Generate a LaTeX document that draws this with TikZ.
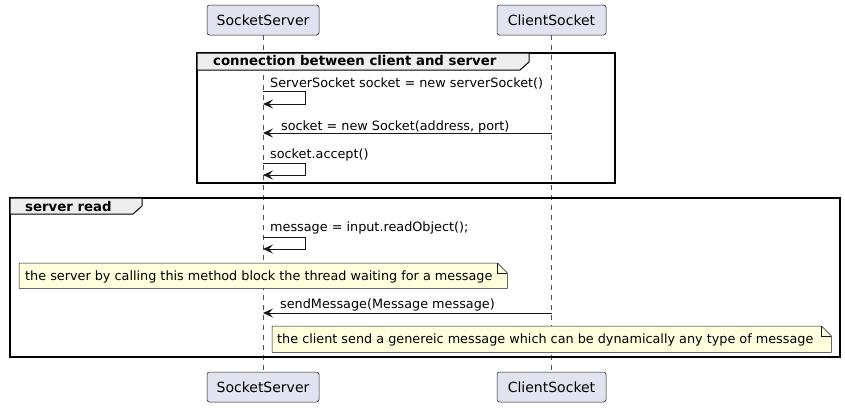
\documentclass[tikz,border=0pt]{standalone}
\usepackage{fontspec}
\setmainfont{DejaVu Sans}
\usetikzlibrary{arrows.meta,calc}
\definecolor{partfill}{HTML}{E2E2F0}
\definecolor{ink}{HTML}{181818}
\definecolor{notefill}{HTML}{FEFFDD}
\definecolor{tabfill}{HTML}{EEEEEE}
\tikzset{
  participant/.style={draw=ink, fill=partfill, rounded corners=2.5pt, line width=0.5pt,
    minimum height=30pt, inner sep=0pt, font=\fontsize{14}{16}\selectfont},
  lifeline/.style={draw=ink!75, dash pattern=on 5pt off 5pt, line width=0.5pt},
  msg/.style={draw=ink, line width=1pt, -{Stealth[length=10pt,width=9pt,inset=4pt]}},
  lbl/.style={anchor=base west, inner sep=0pt, font=\fontsize{12.8}{15}\selectfont, text=black},
  ttl/.style={anchor=base west, inner sep=0pt, font=\fontsize{13.3}{15}\selectfont\bfseries, text=black},
  frm/.style={draw=black, line width=1.5pt},
  tabshape/.style={draw=black, line width=1pt, fill=tabfill},
  notebox/.style={draw=none, inner sep=0pt, anchor=north west},
  noteline/.style={draw=ink, line width=0.5pt, fill=notefill},
}
\begin{document}
\begin{tikzpicture}[x=1pt,y=-1pt]
\useasboundingbox[fill=white] (0,0) rectangle (845,407);

% participants
\node[participant, minimum width=112pt] (st) at (263,20) {SocketServer};
\node[participant, minimum width=109pt] (ct) at (551.5,20) {ClientSocket};
\node[participant, minimum width=112pt] (sb) at (263,387) {SocketServer};
\node[participant, minimum width=109pt] (cb) at (551.5,387) {ClientSocket};

% lifelines
\draw[lifeline] (st.south) -- (sb.north);
\draw[lifeline] (ct.south) -- (cb.north);

% frame 1
\draw[frm] (197,53) rectangle (615,183);
\draw[tabshape] (197,53) -- (529,53) -- (529,62) -- (520,70) -- (197,70) -- cycle;
\node[ttl] (f1t) at (213,65) {connection between client and server};

% frame 2
\draw[frm] (10,198) rectangle (840,357);
\draw[tabshape] (10,198) -- (142,198) -- (142,206) -- (133,214) -- (10,214) -- cycle;
\node[ttl] (f2t) at (25,211) {server read};

% message 1 (self)
\coordinate (s1a) at (263,91);
\coordinate (s1b) at (263,104);
\draw[msg] (s1a) -- ++(42,0) |- (s1b);
\node[lbl] (m1) at (270,87) {ServerSocket socket = new serverSocket()};

% message 2
\coordinate (c2) at (551.5,133);
\coordinate (s2) at (263,133);
\draw[msg] (c2) -- (s2);
\node[lbl] (m2) at (281,130) {socket = new Socket(address, port)};

% message 3 (self)
\coordinate (s3a) at (263,163);
\coordinate (s3b) at (263,175);
\draw[msg] (s3a) -- ++(42,0) |- (s3b);
\node[lbl] (m3) at (270,158) {socket.accept()};

% message 4 (self)
\coordinate (s4a) at (263,237);
\coordinate (s4b) at (263,249);
\draw[msg] (s4a) -- ++(42,0) |- (s4b);
\node[lbl] (m4) at (270,231) {message = input.readObject();};

% note 1
\node[notebox, minimum width=488pt, minimum height=25pt] (n1) at (19,263) {};
\draw[noteline] (n1.north west) -- ($(n1.north east)+(-10,0)$) -- ($(n1.north east)+(0,10)$)
  -- (n1.south east) -- (n1.south west) -- cycle;
\draw[ink, line width=0.5pt] ($(n1.north east)+(-10,0)$) -- ($(n1.north east)+(-10,10)$) -- ($(n1.north east)+(0,10)$);
\node[lbl] (n1t) at (25,280) {the server by calling this method block the thread waiting for a message};

% message 6
\coordinate (c6) at (551.5,313);
\coordinate (s6) at (263,313);
\draw[msg] (c6) -- (s6);
\node[lbl] (m6) at (280,308) {sendMessage(Message message)};

% note 2
\node[notebox, minimum width=559pt, minimum height=26pt] (n2) at (272,326) {};
\draw[noteline] (n2.north west) -- ($(n2.north east)+(-10,0)$) -- ($(n2.north east)+(0,10)$)
  -- (n2.south east) -- (n2.south west) -- cycle;
\draw[ink, line width=0.5pt] ($(n2.north east)+(-10,0)$) -- ($(n2.north east)+(-10,10)$) -- ($(n2.north east)+(0,10)$);
\node[lbl] (n2t) at (277,343) {the client send a genereic message which can be dynamically any type of message};
\end{tikzpicture}
\end{document}
